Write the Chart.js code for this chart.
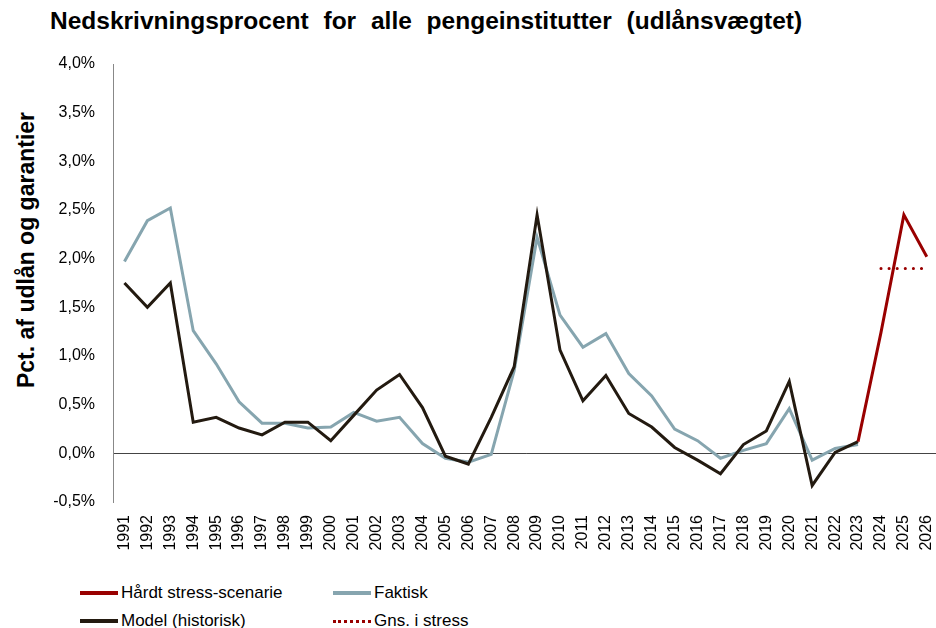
<!DOCTYPE html>
<html>
<head>
<meta charset="utf-8">
<script src="https://cdn.jsdelivr.net/npm/chart.js@4/dist/chart.umd.min.js"></script>
<style>
  html, body { margin: 0; padding: 0; background: #fff; overflow: hidden; width: 936px; height: 628px; }
  body { position: relative; font-family: "Liberation Sans", Arial, sans-serif; }
  #title { position: absolute; left: 50px; top: 7px; font-size: 24.5px; font-weight: bold; color: #000; white-space: nowrap; word-spacing: 8px; }
  #ytitle { position: absolute; left: 26px; top: 250px; font-size: 23px; font-weight: bold; color: #000; white-space: nowrap;
            transform: translate(-50%, -50%) rotate(-90deg); }
  #wrap { position: absolute; left: 0; top: 0; width: 959px; height: 552px; }
  #legend { position: absolute; left: 0; top: 579px; width: 936px; height: 49px; font-size: 17px; color: #000; }
  .item { position: absolute; display: flex; align-items: center; height: 20px; }
  .swatch { width: 38px; height: 0; margin-right: 3px; }
</style>
</head>
<body>
<div id="title">Nedskrivningsprocent for alle pengeinstitutter (udlånsvægtet)</div>
<div id="ytitle">Pct. af udlån og garantier</div>
<div id="wrap"><canvas id="chart"></canvas></div>
<div id="legend"></div>
<script>
// år
const years = ['1991','1992','1993','1994','1995','1996','1997','1998','1999','2000',
  '2001','2002','2003','2004','2005','2006','2007','2008','2009','2010',
  '2011','2012','2013','2014','2015','2016','2017','2018','2019','2020',
  '2021','2022','2023','2024','2025','2026'];

// Faktisk nedskrivningsprocent
const faktisk = [1.97, 2.39, 2.52, 1.26, 0.92, 0.53, 0.31, 0.31, 0.26, 0.27,
  0.42, 0.33, 0.37, 0.10, -0.05, -0.09, -0.01, 0.85, 2.22, 1.42,
  1.09, 1.23, 0.82, 0.59, 0.25, 0.13, -0.05, 0.03, 0.10, 0.46,
  -0.07, 0.05, 0.09, null, null, null];

// Model (historisk)
const model = [1.75, 1.50, 1.75, 0.32, 0.37, 0.26, 0.19, 0.32, 0.32, 0.13,
  0.39, 0.65, 0.81, 0.47, -0.03, -0.11, 0.37, 0.89, 2.45, 1.06,
  0.54, 0.80, 0.41, 0.27, 0.06, -0.07, -0.21, 0.09, 0.23, 0.74,
  -0.33, 0.01, 0.12, null, null, null];

// Hårdt stress-scenarie
const stress = [null, null, null, null, null, null, null, null, null, null,
  null, null, null, null, null, null, null, null, null, null,
  null, null, null, null, null, null, null, null, null, null,
  null, null, 0.12, 1.24, 2.45, 2.02];

// Gns. i stress
const gnsStress = [null, null, null, null, null, null, null, null, null, null,
  null, null, null, null, null, null, null, null, null, null,
  null, null, null, null, null, null, null, null, null, null,
  null, null, null, 1.90, 1.90, 1.90];

const yTicks = [-0.5, 0, 0.5, 1, 1.5, 2, 2.5, 3, 3.5, 4];

const RED = '#990000';
const GREY = '#86a5af';
const DARK = '#231a10';

const legendItems = [
  { label: 'Hårdt stress-scenarie', color: RED, dotted: false, x: 80, y: 4 },
  { label: 'Faktisk', color: GREY, dotted: false, x: 333, y: 4 },
  { label: 'Model (historisk)', color: DARK, dotted: false, x: 80, y: 32 },
  { label: 'Gns. i stress', color: RED, dotted: true, x: 333, y: 32 }
];

const legend = document.getElementById('legend');
legendItems.forEach(function (it) {
  const d = document.createElement('div');
  d.className = 'item';
  d.style.left = it.x + 'px';
  d.style.top = it.y + 'px';
  const sw = document.createElement('span');
  sw.className = 'swatch';
  sw.style.borderTop = it.dotted ? ('3px dotted ' + it.color) : ('4px solid ' + it.color);
  const t = document.createElement('span');
  t.textContent = it.label;
  d.appendChild(sw);
  d.appendChild(t);
  legend.appendChild(d);
});

const ctx = document.getElementById('chart').getContext('2d');
const chart = new Chart(ctx, {
  type: 'line',
  data: {
    labels: years,
    datasets: [
      { label: 'Hårdt stress-scenarie', data: stress, borderColor: RED, borderWidth: 3, pointRadius: 0 },
      { label: 'Model (historisk)', data: model, borderColor: DARK, borderWidth: 3, pointRadius: 0 },
      { label: 'Faktisk', data: faktisk, borderColor: GREY, borderWidth: 3, pointRadius: 0 },
      { label: 'Gns. i stress', data: gnsStress, borderColor: RED, borderWidth: 3, pointRadius: 0,
        borderDash: [0.1, 8], borderCapStyle: 'round' }
    ]
  },
  options: {
    responsive: true,
    maintainAspectRatio: false,
    animation: false,
    layout: { padding: { top: 64, right: 0, left: 0, bottom: 0 } },
    elements: { line: { tension: 0, borderJoinStyle: 'miter' } },
    plugins: {
      legend: { display: false },
      tooltip: { enabled: false }
    },
    scales: {
      x: {
        offset: true,
        afterFit: function (scale) { scale.height = 50; },
        grid: { display: false, drawTicks: false },
        border: { display: false },
        ticks: {
          autoSkip: false,
          maxRotation: 90,
          minRotation: 90,
          padding: 13,
          color: '#000',
          font: { family: 'Liberation Sans', size: 16 }
        }
      },
      y: {
        min: -0.5,
        max: 4,
        afterFit: function (scale) { scale.width = 113; },
        afterBuildTicks: function (scale) {
          scale.ticks = yTicks.map(function (v) { return { value: v }; });
        },
        grid: {
          drawTicks: false,
          color: function (c) { return c.tick && c.tick.value === 0 ? '#444' : 'rgba(0,0,0,0)'; },
          lineWidth: 1
        },
        border: { display: true, color: '#888', width: 1 },
        ticks: {
          padding: 18,
          color: '#000',
          font: { family: 'Liberation Sans', size: 16 },
          callback: function (value) {
            return value.toFixed(1).replace('.', ',') + '%';
          }
        }
      }
    }
  }
});
</script>
</body>
</html>
